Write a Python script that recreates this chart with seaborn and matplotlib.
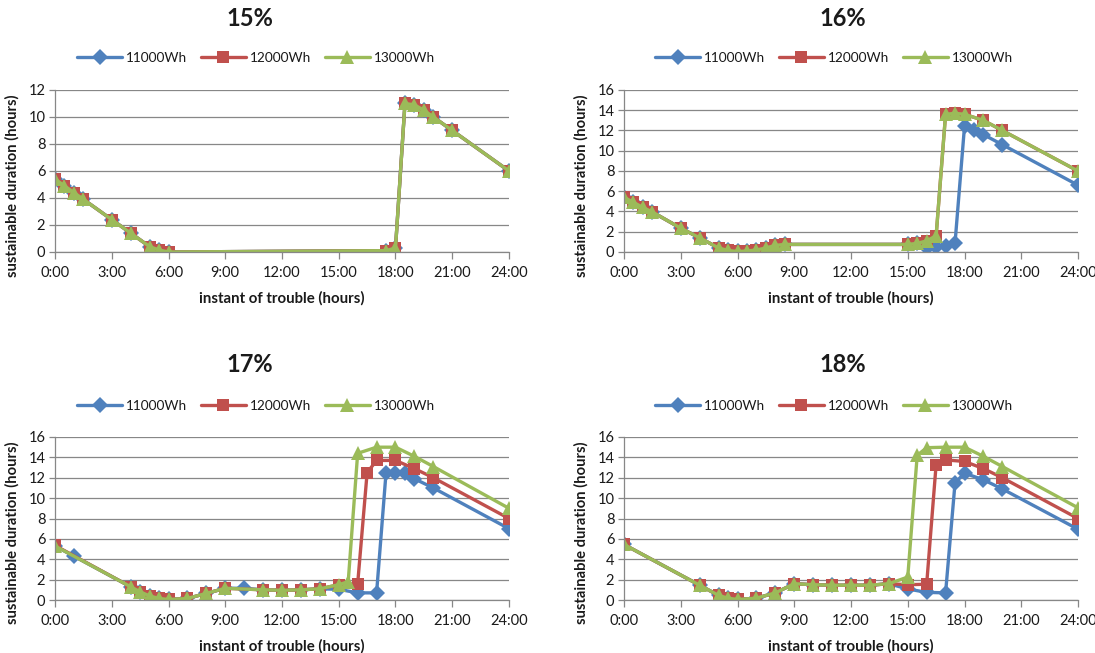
import matplotlib
matplotlib.use("Agg")
import matplotlib.pyplot as plt
import seaborn as sns

sns.set_theme(style="white")
plt.rcParams['font.family'] = ['Lato', 'DejaVu Sans']

series_names = ["11000Wh", "12000Wh", "13000Wh"]
series_colors = ["#4F81BD", "#C0504D", "#9BBB59"]
series_markers = ["D", "s", "^"]
hour_ticks = [0, 3, 6, 9, 12, 15, 18, 21, 24]
hour_labels = ["0:00", "3:00", "6:00", "9:00", "12:00", "15:00", "18:00", "21:00", "24:00"]

# 15 % : the three capacities give identical curves
t15 = [0, 0.5, 1, 1.5, 3, 4, 5, 5.5, 6, 17.5, 18, 18.5, 19, 19.5, 20, 21, 24]
d15 = [5.4, 4.9, 4.4, 3.9, 2.4, 1.4, 0.4, 0.15, 0.0, 0.1, 0.3, 11.0, 10.9, 10.5, 10.0, 9.0, 6.0]

# 16 %
t16_a = [0, 0.5, 1, 1.5, 3, 4, 5, 5.5, 6, 6.5, 7, 7.5, 8, 8.5, 15, 15.5,
         16, 16.5, 17, 17.5, 18, 18.5, 19, 20, 24]
d16_a = [5.4, 4.9, 4.4, 3.95, 2.35, 1.4, 0.4, 0.15, 0.05, 0.1, 0.2, 0.4, 0.65, 0.75, 0.75, 0.85,
         0.4, 0.45, 0.6, 0.9, 12.4, 12.0, 11.6, 10.6, 6.6]
t16_b = [0, 0.5, 1, 1.5, 3, 4, 5, 5.5, 6, 6.5, 7, 7.5, 8, 8.5, 15, 15.5,
         16, 16.5, 17, 17.5, 18, 19, 20, 24]
d16_b = [5.4, 4.9, 4.4, 3.95, 2.35, 1.4, 0.4, 0.15, 0.05, 0.1, 0.2, 0.4, 0.65, 0.75, 0.75, 0.85,
         1.1, 1.6, 13.6, 13.7, 13.6, 13.0, 12.0, 8.0]
t16_c = t16_b
d16_c = d16_b

# 17 %
t17_a = [0, 1, 4, 4.5, 5, 5.5, 6, 7, 8, 9, 10, 11, 12, 13, 14, 15,
         16, 17, 17.5, 18, 18.5, 19, 20, 24]
d17_a = [5.3, 4.3, 1.3, 0.8, 0.4, 0.15, 0.05, 0.15, 0.65, 1.15, 1.15, 1.0, 0.95, 1.0, 1.1, 1.05,
         0.7, 0.7, 12.5, 12.5, 12.5, 11.9, 11.0, 7.0]
t17_b = [0, 4, 4.5, 5, 5.5, 6, 7, 8, 9, 11, 12, 13, 14, 15,
         16, 16.5, 17, 18, 19, 20, 24]
d17_b = [5.35, 1.3, 0.8, 0.4, 0.15, 0.05, 0.15, 0.65, 1.15, 1.0, 0.95, 1.0, 1.1, 1.5,
         1.6, 12.5, 13.7, 13.7, 12.9, 12.0, 8.0]
t17_c = [0, 4, 4.5, 5, 5.5, 6, 7, 8, 9, 11, 12, 13, 14, 15,
         15.5, 16, 17, 18, 19, 20, 24]
d17_c = [5.3, 1.3, 0.8, 0.4, 0.15, 0.05, 0.15, 0.65, 1.15, 1.0, 0.95, 1.0, 1.1, 1.5,
         1.8, 14.4, 15.0, 15.0, 14.1, 13.1, 9.0]

# 18 %
t18_a = [0, 4, 5, 5.5, 6, 7, 8, 9, 10, 11, 12, 13, 14,
         15, 16, 17, 17.5, 18, 19, 20, 24]
d18_a = [5.45, 1.45, 0.45, 0.18, 0.05, 0.18, 0.7, 1.6, 1.5, 1.45, 1.45, 1.45, 1.6,
         1.08, 0.75, 0.7, 11.5, 12.45, 11.8, 10.9, 6.95]
t18_b = [0, 4, 5, 5.5, 6, 7, 8, 9, 10, 11, 12, 13, 14,
         15, 16, 16.5, 17, 18, 19, 20, 24]
d18_b = [5.45, 1.45, 0.45, 0.18, 0.05, 0.18, 0.7, 1.6, 1.5, 1.45, 1.45, 1.45, 1.6,
         1.5, 1.55, 13.3, 13.75, 13.6, 12.9, 12.0, 8.0]
t18_c = [0, 4, 5, 5.5, 6, 7, 8, 9, 10, 11, 12, 13, 14,
         15, 15.5, 16, 17, 18, 19, 20, 24]
d18_c = [5.45, 1.45, 0.45, 0.18, 0.05, 0.18, 0.7, 1.6, 1.5, 1.45, 1.45, 1.45, 1.6,
         2.25, 14.2, 14.95, 15.0, 15.0, 14.1, 13.1, 9.05]

panels = [
    ("15%", 12, [(t15, d15), (t15, d15), (t15, d15)]),
    ("16%", 16, [(t16_a, d16_a), (t16_b, d16_b), (t16_c, d16_c)]),
    ("17%", 16, [(t17_a, d17_a), (t17_b, d17_b), (t17_c, d17_c)]),
    ("18%", 16, [(t18_a, d18_a), (t18_b, d18_b), (t18_c, d18_c)]),
]

W, H = 1095, 653
fig = plt.figure(figsize=(W / 100, H / 100), dpi=100)
fig.patch.set_facecolor("white")

# pixel boxes (left, top, right, bottom) of the four plot areas
boxes = [(55, 90, 509, 252), (624, 90, 1078, 252),
         (55, 437, 509, 600), (624, 437, 1078, 600)]
title_pos = [(250, 18), (843, 18), (250, 365), (843, 365)]
legend_pos = [(256, 58), (834, 58), (256, 406), (834, 406)]

axis_grey = "#878787"
text_col = "#1a1a1a"
marker_sizes = [8.5, 8.5, 10]

for (title, ymax, data), (l, t, r, b), (tx, ty), (lx, ly) in zip(panels, boxes, title_pos, legend_pos):
    ax = fig.add_axes([l / W, 1 - b / H, (r - l) / W, (b - t) / H])
    for (xs, ys), name, col, mk, ms in zip(data, series_names, series_colors, series_markers, marker_sizes):
        sns.lineplot(x=xs, y=ys, ax=ax, color=col, marker=mk, markersize=ms,
                     markeredgewidth=0, linewidth=2.4, label=name, sort=False,
                     estimator=None, legend=False)
    ax.set_xlim(0, 24)
    ax.set_ylim(0, ymax)
    ax.set_xticks(hour_ticks)
    ax.set_xticklabels(hour_labels)
    ax.set_yticks(list(range(0, ymax + 1, 2)))
    ax.yaxis.grid(True, color=axis_grey, linewidth=0.9)
    ax.xaxis.grid(False)
    ax.set_axisbelow(True)
    for side in ("top", "right"):
        ax.spines[side].set_visible(False)
    for side in ("left", "bottom"):
        ax.spines[side].set_color(axis_grey)
        ax.spines[side].set_linewidth(0.9)
    ax.tick_params(axis="x", direction="out", length=5, width=0.9, color=axis_grey,
                   labelsize=10.5, labelcolor=text_col, pad=5, bottom=True)
    ax.tick_params(axis="y", direction="out", length=4, width=0.9, color=axis_grey,
                   labelsize=10.5, labelcolor=text_col, pad=3, left=True)
    ax.set_xlabel("instant of trouble (hours)", fontsize=10.8, fontweight="bold",
                  color=text_col, labelpad=8)
    ax.set_ylabel("sustainable duration (hours)", fontsize=10.6, fontweight="bold",
                  color=text_col)
    ax.yaxis.set_label_coords(-0.077, 0.41)
    fig.text(tx / W, 1 - ty / H, title, fontsize=17, fontweight="bold",
             ha="center", va="center", color=text_col)
    handles, labels = ax.get_legend_handles_labels()
    ax.legend(handles, labels, loc="center", bbox_to_anchor=(lx / W, 1 - ly / H),
              bbox_transform=fig.transFigure, ncol=3, frameon=False,
              fontsize=9.8, handlelength=3.3, handletextpad=0.3, columnspacing=1.0,
              labelcolor=text_col)

fig.savefig("out.png", dpi=100, facecolor="white")
